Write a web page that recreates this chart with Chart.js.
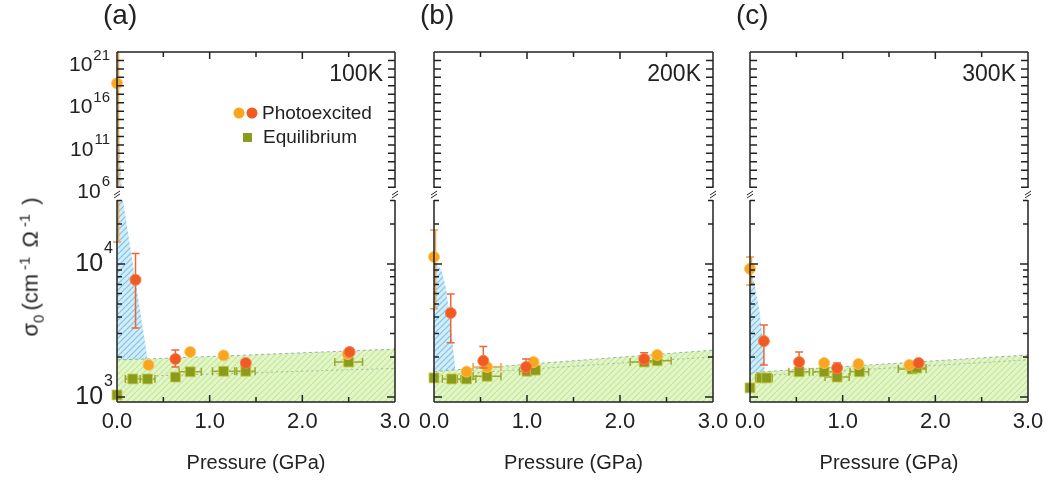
<!DOCTYPE html>
<html>
<head>
<meta charset="utf-8">
<script src="https://cdn.jsdelivr.net/npm/chart.js@4.4.1/dist/chart.umd.min.js"></script>
<style>
  body { margin: 0; background: #fff; width: 1056px; height: 481px; overflow: hidden; position: relative; font-family: "Liberation Sans", Arial, sans-serif; }
  canvas { position: absolute; }
  #ytitle { position: absolute; left: 31px; top: 267px; transform: translate(-50%, -50%) rotate(-90deg); font-size: 22px; color: #222; white-space: nowrap; }
  #ytitle sub, #ytitle sup { font-size: 15px; }
  #ytitle sub { margin-right: 4px; }
  #ytitle sup { margin: 0 9px 0 4px; }
</style>
</head>
<body>
<canvas id="upA" width="420" height="200" style="left:0;top:0"></canvas>
<canvas id="loA" width="420" height="295" style="left:0;top:186px"></canvas>
<canvas id="upB" width="316" height="200" style="left:420px;top:0"></canvas>
<canvas id="loB" width="316" height="295" style="left:420px;top:186px"></canvas>
<canvas id="upC" width="320" height="200" style="left:736px;top:0"></canvas>
<canvas id="loC" width="320" height="295" style="left:736px;top:186px"></canvas>
<div id="ytitle">σ<sub>0</sub>(cm<sup>-1</sup>Ω<sup>-1</sup>)</div>
<script>
// axis stuff
const xTicks = [0, 0.5, 1, 1.5, 2, 2.5, 3];
const xLabels = ['0.0', '1.0', '2.0', '3.0'];
const upperExp = [21, 16, 11, 6];
const lowerExp = [4, 3];
const panelNames = ['(a)', '(b)', '(c)'];
const temps = ['100K', '200K', '300K'];

// (a) 100K
const aOrange = [{x: 0, y: 2e18, yLo: 1.46e4, yHi: 1e23}, {x: 0.34, y: 1740}, {x: 0.79, y: 2180}, {x: 1.15, y: 2050}, {x: 2.49, y: 2100}];
const aRed = [{x: 0.2, y: 7600, yLo: 3300, yHi: 12000}, {x: 0.63, y: 1930, yLo: 1680, yHi: 2250}, {x: 1.39, y: 1800, yLo: 1720, yHi: 1880}, {x: 2.51, y: 2180, yLo: 2050, yHi: 2330}];
const aEq = [{x: 0, y: 1035}, {x: 0.17, y: 1365, xErr: 0.08}, {x: 0.33, y: 1365, xErr: 0.08}, {x: 0.63, y: 1410}, {x: 0.79, y: 1545, xErr: 0.12}, {x: 1.15, y: 1560, xErr: 0.12}, {x: 1.39, y: 1560, xErr: 0.1}, {x: 2.5, y: 1830, xErr: 0.15}];
const aBlue = [{x: 0, y: 1e18}, {x: 0.05, y: 1e6}, {x: 0.065, y: 3e4}, {x: 0.33, y: 1930}];
const aGreen = [{x: 0, y: 1900}, {x: 0.33, y: 1930}, {x: 3, y: 2290}];
const aFit = [{x: 0.1, y: 1420}, {x: 3, y: 1640}];

// (b) 200K
const bOrange = [{x: 0, y: 11300, yLo: 4600, yHi: 18000}, {x: 0.35, y: 1550}, {x: 0.57, y: 1680, xErr: 0.15}, {x: 1.07, y: 1830}, {x: 2.4, y: 2070}];
const bRed = [{x: 0.18, y: 4280, yLo: 2560, yHi: 5940}, {x: 0.53, y: 1870, yLo: 1650, yHi: 2400}, {x: 0.99, y: 1680, yLo: 1500, yHi: 1930}, {x: 2.26, y: 1930, yLo: 1750, yHi: 2150}];
const bEq = [{x: 0, y: 1390}, {x: 0.19, y: 1365, xErr: 0.1}, {x: 0.35, y: 1365, xErr: 0.1}, {x: 0.57, y: 1430, xErr: 0.15}, {x: 1.0, y: 1560, xErr: 0.08}, {x: 1.09, y: 1590}, {x: 2.26, y: 1830, xErr: 0.15}, {x: 2.4, y: 1870, xErr: 0.15}];
const bBlue = [{x: 0, y: 10500}, {x: 0.08, y: 9000}, {x: 0.13, y: 6500}, {x: 0.17, y: 4000}, {x: 0.2, y: 2500}, {x: 0.23, y: 1600}];
const bGreen = [{x: 0, y: 1550}, {x: 0.23, y: 1600}, {x: 3, y: 2250}];
const bFit = [{x: 0.2, y: 1480}, {x: 3, y: 2000}];

// (c) 300K
const cOrange = [{x: 0, y: 9200, yLo: 6950, yHi: 11300}, {x: 0.8, y: 1800}, {x: 1.17, y: 1770}, {x: 1.72, y: 1740}];
const cRed = [{x: 0.15, y: 2630, yLo: 1740, yHi: 3480}, {x: 0.53, y: 1830, yLo: 1650, yHi: 2180}, {x: 0.94, y: 1650, yLo: 1500, yHi: 1800}, {x: 1.82, y: 1800}];
const cEq = [{x: 0, y: 1170}, {x: 0.12, y: 1390, xErr: 0.06}, {x: 0.18, y: 1390, xErr: 0.06}, {x: 0.53, y: 1545, xErr: 0.11}, {x: 0.8, y: 1545, xErr: 0.12}, {x: 0.94, y: 1410, xErr: 0.13}, {x: 1.18, y: 1545, xErr: 0.1}, {x: 1.75, y: 1620, xErr: 0.15}, {x: 1.8, y: 1650, xErr: 0.1}];
const cBlue = [{x: 0, y: 9500}, {x: 0.05, y: 7000}, {x: 0.1, y: 4500}, {x: 0.14, y: 2700}, {x: 0.16, y: 1550}];
const cGreen = [{x: 0, y: 1500}, {x: 0.16, y: 1550}, {x: 3, y: 2070}];
const cFit = [{x: 0.15, y: 1450}, {x: 3, y: 1900}];

const FONT = '"Liberation Sans", Arial, sans-serif';
const INK = '#222';

function hatch(bg, fg) {
  const c = document.createElement('canvas');
  c.width = 6; c.height = 6;
  const g = c.getContext('2d');
  g.fillStyle = bg;
  g.fillRect(0, 0, 6, 6);
  g.strokeStyle = fg;
  g.lineWidth = 1.2;
  g.beginPath();
  g.moveTo(0, 6); g.lineTo(6, 0);
  g.moveTo(-1, 1); g.lineTo(1, -1);
  g.moveTo(5, 7); g.lineTo(7, 5);
  g.stroke();
  return g.createPattern(c, 'repeat');
}

const errPlugin = {
  id: 'errbars',
  beforeDatasetDraw(chart, args) {
    const ds = chart.data.datasets[args.index];
    if (!ds.errColor) return;
    const {ctx, chartArea: a, scales: {x, y}} = chart;
    ctx.save();
    ctx.beginPath();
    ctx.rect(a.left - 8, a.top, a.right - a.left + 16, a.bottom - a.top);
    ctx.clip();
    ctx.strokeStyle = ds.errColor;
    ctx.lineWidth = 1.5;
    ctx.beginPath();
    ds.data.forEach(p => {
      const px = x.getPixelForValue(p.x);
      const py = y.getPixelForValue(p.y);
      if (p.yLo !== undefined) {
        const p1 = y.getPixelForValue(p.yLo), p2 = y.getPixelForValue(p.yHi);
        // bar sitting on the axis gets nudged so it stays visible
        const bx = p.x === 0 ? px + 1.5 : px;
        ctx.moveTo(bx, p1); ctx.lineTo(bx, p2);
        ctx.moveTo(px - 4, p1); ctx.lineTo(px + 4, p1);
        ctx.moveTo(px - 4, p2); ctx.lineTo(px + 4, p2);
      }
      if (p.xErr) {
        const q1 = x.getPixelForValue(p.x - p.xErr), q2 = x.getPixelForValue(p.x + p.xErr);
        ctx.moveTo(q1, py); ctx.lineTo(q2, py);
        ctx.moveTo(q1, py - 4); ctx.lineTo(q1, py + 4);
        ctx.moveTo(q2, py - 4); ctx.lineTo(q2, py + 4);
      }
    });
    ctx.stroke();
    ctx.restore();
  }
};

function powLabel(ctx, exp, right, py, big, small, dy, by) {
  ctx.textBaseline = 'middle';
  ctx.textAlign = 'left';
  ctx.font = small + 'px ' + FONT;
  const ew = ctx.measureText(String(exp)).width;
  ctx.fillText(String(exp), right - ew, py - dy);
  ctx.font = big + 'px ' + FONT;
  const bw = ctx.measureText('10').width;
  ctx.fillText('10', right - ew - bw - 1, py + by);
}

const framePlugin = {
  id: 'frame',
  afterDraw(chart, args, opts) {
    const {ctx, chartArea: a, scales: {x, y}} = chart;
    const up = opts.part === 'upper';
    ctx.save();
    ctx.strokeStyle = INK;
    ctx.lineWidth = 1.5;
    ctx.beginPath();
    ctx.moveTo(a.left, a.top); ctx.lineTo(a.left, a.bottom);
    ctx.moveTo(a.right, a.top); ctx.lineTo(a.right, a.bottom);
    const edge = up ? a.top : a.bottom;
    const dir = up ? 1 : -1;
    ctx.moveTo(a.left, edge); ctx.lineTo(a.right, edge);
    xTicks.forEach(v => {
      const px = x.getPixelForValue(v);
      const len = Number.isInteger(v) ? 7 : 5;
      ctx.moveTo(px, edge); ctx.lineTo(px, edge + dir * len);
    });
    const yt = [];
    const lo = Math.log10(y.min), hi = Math.log10(y.max);
    if (up) {
      for (let e = Math.ceil(lo); e <= hi; e++) yt.push({v: Math.pow(10, e), len: 7});
    } else {
      for (let e = Math.floor(lo); e <= hi; e++) {
        for (let k = 1; k < 10; k++) {
          const v = k * Math.pow(10, e);
          if (v >= y.min && v <= y.max) yt.push({v: v, len: k === 1 ? 8 : 5});
        }
      }
    }
    yt.forEach(t => {
      const py = y.getPixelForValue(t.v);
      ctx.moveTo(a.left, py); ctx.lineTo(a.left + t.len, py);
      ctx.moveTo(a.right, py); ctx.lineTo(a.right - t.len, py);
    });
    ctx.stroke();

    ctx.fillStyle = INK;
    if (up) {
      ctx.font = '28px ' + FONT;
      ctx.textAlign = 'left';
      ctx.textBaseline = 'middle';
      ctx.fillText(opts.name, a.left - 14, 16);
      ctx.font = '23px ' + FONT;
      ctx.textAlign = 'right';
      ctx.fillText(opts.temp, a.right - 12, a.top + 23);
      if (opts.ylabels) {
        upperExp.forEach(e => powLabel(ctx, e, a.left - 7, y.getPixelForValue(Math.pow(10, e)), 21, 15, 5, 5));
      }
      if (opts.legend) {
        const lx = a.left + 122, ly = a.top + 61;
        ctx.fillStyle = '#f9a51e';
        ctx.beginPath(); ctx.arc(lx, ly, 5.5, 0, Math.PI * 2); ctx.fill();
        ctx.fillStyle = '#f15a22';
        ctx.beginPath(); ctx.arc(lx + 13, ly, 5.5, 0, Math.PI * 2); ctx.fill();
        ctx.fillStyle = '#8b9b1b';
        ctx.fillRect(lx + 4, ly + 20, 9, 9);
        ctx.fillStyle = INK;
        ctx.font = '19px ' + FONT;
        ctx.textAlign = 'left';
        ctx.fillText('Photoexcited', lx + 23, ly + 1);
        ctx.fillText('Equilibrium', lx + 24, ly + 25);
      }
    } else {
      // break marks
      ctx.beginPath();
      [a.left, a.right].forEach(bx => {
        ctx.moveTo(bx - 3, a.top - 2); ctx.lineTo(bx + 3, a.top - 6);
        ctx.moveTo(bx - 3, a.top - 5); ctx.lineTo(bx + 3, a.top - 9);
      });
      ctx.lineWidth = 1;
      ctx.stroke();
      ctx.font = '22px ' + FONT;
      ctx.textAlign = 'center';
      ctx.textBaseline = 'middle';
      xLabels.forEach((t, i) => ctx.fillText(t, x.getPixelForValue(i), a.bottom + 20));
      ctx.font = '20px ' + FONT;
      ctx.fillText('Pressure (GPa)', (a.left + a.right) / 2, a.bottom + 61);
      if (opts.ylabels) {
        lowerExp.forEach(e => powLabel(ctx, e, a.left - 4, y.getPixelForValue(Math.pow(10, e)), 25, 16, 15, 0));
      }
    }
    ctx.restore();
  }
};

const bluePat = hatch('#d3ecf8', '#7cc4ea');
const greenPat = hatch('#e3f6c8', '#c3e79c');

function makeChart(id, part, idx, pad, d) {
  const up = part === 'upper';
  const clip = up ? {left: 8, right: 8, top: 8, bottom: 0} : {left: 8, right: 8, top: 0, bottom: 8};
  new Chart(document.getElementById(id), {
    type: 'scatter',
    data: {
      datasets: [
        {type: 'line', data: d.blue, fill: 'start', backgroundColor: bluePat, borderWidth: 0, borderColor: 'rgba(0,0,0,0)', pointRadius: 0, order: 6, clip: clip},
        {type: 'line', data: d.green, fill: 'start', backgroundColor: greenPat, borderWidth: 1, borderColor: 'rgba(120,150,150,0.7)', borderDash: [3, 3], pointRadius: 0, order: 5, clip: clip},
        {type: 'line', data: d.fit, fill: false, borderWidth: 1, borderColor: 'rgba(120,150,140,0.6)', borderDash: [2, 3], pointRadius: 0, order: 4, clip: clip},
        {data: d.eq, pointStyle: 'rect', pointRadius: 7, backgroundColor: '#8b9b1b', borderColor: 'rgba(200,205,70,0.8)', borderWidth: 1, errColor: 'rgba(150,160,30,0.9)', order: 3, clip: clip},
        {data: d.orange, pointStyle: 'circle', pointRadius: 5.5, backgroundColor: '#f9a51e', borderColor: 'rgba(252,195,100,0.9)', borderWidth: 1, errColor: '#eea24a', order: 2, clip: clip},
        {data: d.red, pointStyle: 'circle', pointRadius: 5.5, backgroundColor: '#f15a22', borderColor: 'rgba(245,130,80,0.9)', borderWidth: 1, errColor: '#e8683a', order: 1, clip: clip}
      ]
    },
    options: {
      responsive: false,
      animation: false,
      layout: {padding: up ? {left: pad[0], right: pad[1], top: 52, bottom: 12} : {left: pad[0], right: pad[1], top: 14, bottom: 79}},
      scales: {
        x: {type: 'linear', min: 0, max: 3, display: false},
        y: {type: 'logarithmic', min: up ? Math.pow(10, 5.9) : 916, max: up ? 1e22 : 30270, display: false}
      },
      plugins: {
        legend: {display: false},
        tooltip: {enabled: false},
        frame: {part: part, name: panelNames[idx], temp: temps[idx], ylabels: idx === 0, legend: idx === 0}
      }
    },
    plugins: [errPlugin, framePlugin]
  });
}

const dataA = {blue: aBlue, green: aGreen, fit: aFit, eq: aEq, orange: aOrange, red: aRed};
const dataB = {blue: bBlue, green: bGreen, fit: bFit, eq: bEq, orange: bOrange, red: bRed};
const dataC = {blue: cBlue, green: cGreen, fit: cFit, eq: cEq, orange: cOrange, red: cRed};

makeChart('upA', 'upper', 0, [117, 25], dataA);
makeChart('loA', 'lower', 0, [117, 25], dataA);
makeChart('upB', 'upper', 1, [14, 23], dataB);
makeChart('loB', 'lower', 1, [14, 23], dataB);
makeChart('upC', 'upper', 2, [14, 28], dataC);
makeChart('loC', 'lower', 2, [14, 28], dataC);
</script>
</body>
</html>
